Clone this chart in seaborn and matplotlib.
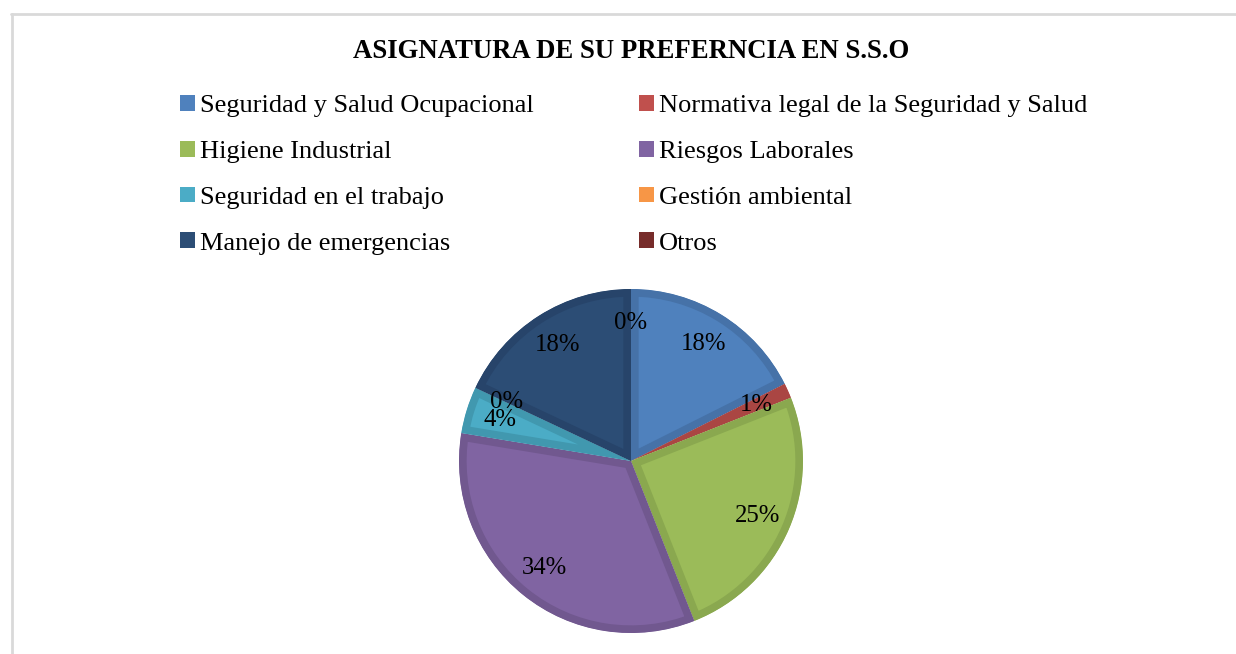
import matplotlib
matplotlib.use("Agg")
import matplotlib.pyplot as plt
import seaborn as sns
from matplotlib.patches import Patch
from matplotlib.lines import Line2D

# data (percent shares)
categories = [
    "Seguridad y Salud Ocupacional",
    "Normativa legal de la Seguridad y Salud",
    "Higiene Industrial",
    "Riesgos Laborales",
    "Seguridad en el trabajo",
    "Gestión ambiental",
    "Manejo de emergencias",
    "Otros",
]
shares = [17.6, 1.4, 25.0, 33.6, 4.4, 0.0, 18.0, 0.0]
title = "ASIGNATURA DE SU PREFERNCIA EN S.S.O"

# excel 2010 style fills and slightly darker rims
fills = ["#4F81BD", "#C0504D", "#9BBB59", "#8064A2",
         "#4BACC6", "#F79646", "#2C4D75", "#772C2A"]
rims = ["#4672A8", "#AA4643", "#8AA84F", "#71588F",
        "#4198AF", "#DB843D", "#27446A", "#6A2826"]

sns.set_theme(style="white")
plt.rcParams["font.family"] = ["Liberation Serif", "DejaVu Serif"]
plt.rcParams["text.color"] = "black"

fig = plt.figure(figsize=(12.36, 6.54), dpi=100)
W, H = 1236, 654

# chart frame (top and left edges only visible)
fig.add_artist(Line2D([11 / W, 1], [1 - 13.5 / H, 1 - 13.5 / H], color="#d9d9d9", lw=2))
fig.add_artist(Line2D([11.5 / W, 11.5 / W], [0, 1 - 13.5 / H], color="#d9d9d9", lw=2))

fig.text(631 / W, 1 - 51 / H, title, ha="center", va="center",
         fontsize=19.3, fontweight="bold", color="black")

# pie, center (631, 461), radius 172 px
cx, cy, r = 631, 461, 172
ax = fig.add_axes([(cx - r) / W, (H - cy - r) / H, 2 * r / W, 2 * r / H])
wedges, texts, autotexts = ax.pie(
    shares, colors=fills, startangle=90, counterclock=False,
    autopct="%.0f%%", pctdistance=0.8,
    wedgeprops=dict(linewidth=11),
    textprops=dict(fontsize=17.8, color="black"),
)
for w, rim, s in zip(wedges, rims, shares):
    w.set_edgecolor(rim)
    w.set_clip_on(True)
    w.set_clip_path(w)
    if s == 0:
        w.set_linewidth(0)
ax.set_xlim(-1, 1)
ax.set_ylim(-1, 1)
ax.set_aspect("auto")
ax.axis("off")

# legend in two columns like the reference
handles = [Patch(facecolor=c, edgecolor="none") for c in fills]
col1 = [0, 2, 4, 6]
col2 = [1, 3, 5, 7]
for idx, x0 in [(col1, 180), (col2, 639)]:
    fig.legend([handles[i] for i in idx], [categories[i] for i in idx],
               loc="upper left", bbox_to_anchor=(x0 / W, 1 - 95 / H),
               frameon=False, fontsize=19, handlelength=0.55, handleheight=0.55,
               handletextpad=0.2, labelspacing=0.89, borderpad=0, borderaxespad=0,
               labelcolor="black")

fig.savefig("out.png", dpi=100, facecolor="white")
